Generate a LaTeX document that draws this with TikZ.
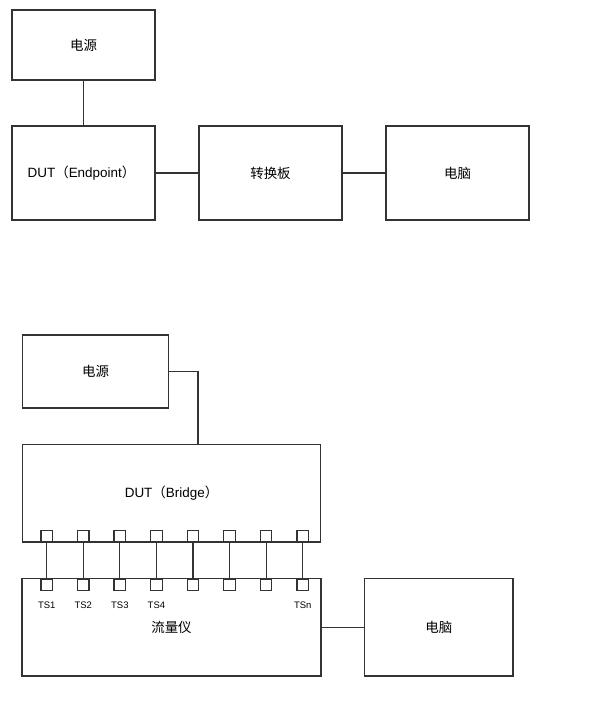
\documentclass[tikz,border=0pt]{standalone}
\usepackage{fontspec}
\setmainfont{Liberation Sans}
\newfontfamily\cjk{Noto Sans CJK SC}
\usetikzlibrary{
  positioning
}

\begin{document}
\begin{tikzpicture}[
    x=1bp,y=-1bp,
    node distance=44bp,
    line width=1.2bp,
    boxNode/.style={draw=black!80,outer sep=0pt,inner sep=0pt,font=\fontsize{13.5}{16}\selectfont},
    portNode/.style={draw=black!80,outer sep=0pt,inner sep=0pt,minimum size=11.5bp,fill=white},
    tsLabel/.style={inner sep=0pt,font=\fontsize{9.5}{11}\selectfont},
    wire/.style={draw=black!80},
  ]
    \useasboundingbox (0,0) rectangle (598,704);

    % endpoint setup
    \node[boxNode, minimum width=143bp, minimum height=70bp] (psuA) at (83.5,45) {\cjk 电源};
    \node[boxNode, minimum width=143bp, minimum height=94bp] (dutA) at (83.5,173) {\hspace*{-4bp}DUT{\cjk （}Endpoint{\cjk ）}};
    \node[boxNode, minimum width=143bp, minimum height=94bp, right=of dutA] (board) {\cjk 转换板};
    \node[boxNode, minimum width=143bp, minimum height=94bp, right=of board] (pcA) {\cjk 电脑};

    \draw[wire] (psuA) -- (dutA);
    \draw[wire] (dutA) -- (board) -- (pcA);

    % bridge setup
    \node[boxNode, minimum width=146bp, minimum height=73bp] (psuB) at (95.5,371.5) {\cjk 电源};
    \node[boxNode, minimum width=298bp, minimum height=97.5bp] (dutB) at (171.5,493.25) {DUT{\cjk （}Bridge{\cjk ）}};
    \node[boxNode, minimum width=299bp, minimum height=97.5bp] (meter) at (171.5,627.25) {\cjk 流量仪};
    \node[boxNode, minimum width=148.5bp, minimum height=97.5bp, right=43.5bp of meter] (pcB) {\cjk 电脑};

    \draw[wire] (psuB.east) -| (dutB.north -| 198,0);
    \draw[wire] (meter) -- (pcB);

    % test ports
    \foreach \i in {1,...,8} {
      \node[portNode] (pa\i) at ({46.7+36.57*(\i-1)},536) {};
      \node[portNode] (pb\i) at ({46.7+36.57*(\i-1)},585) {};
      \draw[wire] (pa\i) -- (pb\i);
    }
    \foreach \i/\t in {1/TS1,2/TS2,3/TS3,4/TS4,8/TSn}
      \node[tsLabel, below=11bp of pb\i] (ts\i) {\t};
  \end{tikzpicture}
\end{document}
